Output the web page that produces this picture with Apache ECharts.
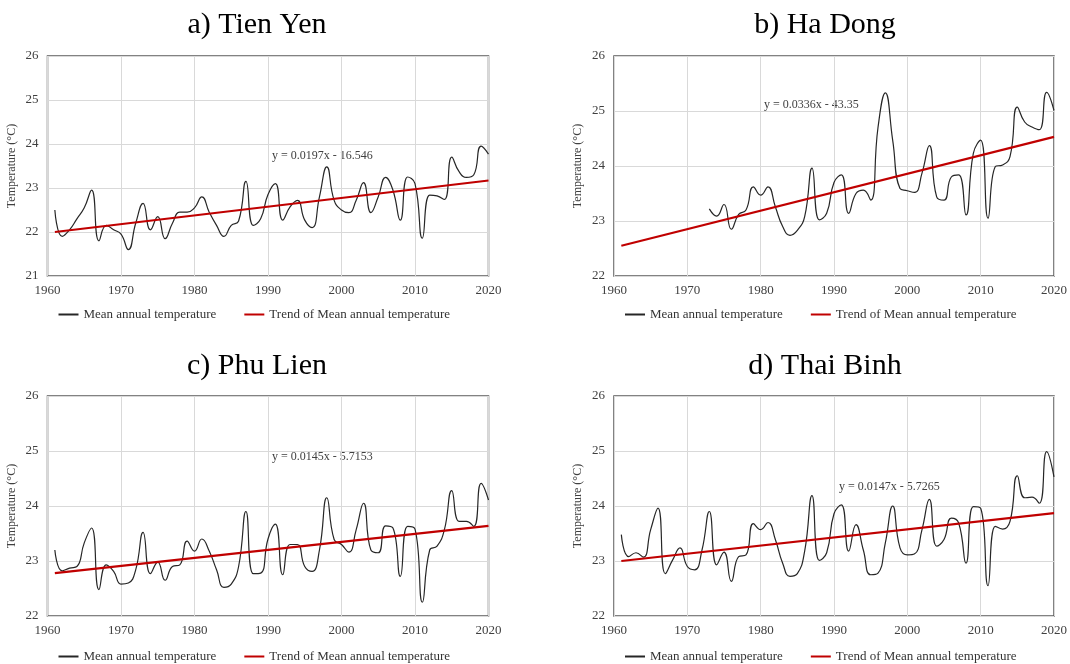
<!doctype html>
<html>
	<head>
		<meta charset="UTF-8">
		<title>Mean annual temperature</title>
		<style>
			html, body { margin: 0; padding: 0; background: #fff; }
			#main { width: 1070px; height: 664px; }
		</style>
	</head>
	<body>
		<div id="main"></div>
		<script src="https://cdn.jsdelivr.net/npm/echarts/dist/echarts.min.js"></script>
		<script>
			// years 1961-2020
			var years = [];
			for (var y = 1961; y <= 2020; y++) years.push(y);
			var haDongYears = [];
			for (var y = 1973; y <= 2020; y++) haDongYears.push(y);

			var tienYen = [22.5, 21.9, 22.05, 22.3, 22.55, 22.95, 21.8, 22.15, 22.05, 21.95,
				21.6, 22.2, 22.65, 22.05, 22.35, 21.85, 22.2, 22.45, 22.45, 22.55,
				22.8, 22.45, 22.15, 21.9, 22.15, 22.25, 23.15, 22.15, 22.3, 22.85,
				23.1, 22.27, 22.57, 22.72, 22.27, 22.1, 22.8, 23.48, 22.72, 22.5,
				22.44, 22.72, 23.12, 22.44, 22.8, 23.24, 22.95, 22.27, 23.25, 23.1,
				21.86, 22.84, 22.82, 22.74, 23.7, 23.37, 23.24, 23.3, 23.95, 23.77];
			var haDong = [23.22, 23.09, 23.3, 22.85, 23.12, 23.2, 23.62, 23.47, 23.62, 23.26,
				22.9, 22.74, 22.83, 23.08, 23.96, 23.02, 23.14, 23.7,
				23.84, 23.14, 23.5, 23.56, 23.38, 24.7, 25.33, 24.47, 23.59, 23.55,
				23.52, 23.87, 24.37, 23.44, 23.38, 23.8, 23.84, 23.11, 24.23, 24.47,
				23.05, 23.99, 24.02, 24.17, 25.07, 24.8, 24.71, 24.66, 25.34, 25.01];
			var phuLien = [23.2, 22.82, 22.87, 22.9, 23.33, 23.6, 22.48, 22.93, 22.81, 22.58,
				22.6, 22.84, 23.52, 22.77, 22.98, 22.65, 22.9, 22.93, 23.36, 23.18,
				23.4, 23.18, 22.84, 22.52, 22.58, 22.9, 23.9, 22.77, 22.78, 23.4,
				23.67, 22.75, 23.3, 23.3, 22.9, 22.81, 23.2, 24.15, 23.39, 23.3,
				23.16, 23.57, 24.05, 23.2, 23.15, 23.64, 23.6, 22.72, 23.63, 23.58,
				22.25, 23.2, 23.27, 23.57, 24.28, 23.72, 23.72, 23.63, 24.41, 24.11];
			var thaiBinh = [23.48, 23.08, 23.15, 23.07, 23.57, 23.96, 22.77, 23.02, 23.24, 22.9,
				22.84, 23.2, 23.9, 22.93, 23.16, 22.63, 23.08, 23.11, 23.68, 23.57,
				23.7, 23.39, 22.96, 22.72, 22.77, 23.18, 24.19, 23.01, 23.15, 23.86,
				24.02, 23.18, 23.66, 23.2, 22.75, 22.78, 23.33, 24.0, 23.24, 23.11,
				23.13, 23.57, 24.12, 23.27, 23.39, 23.78, 23.69, 22.96, 23.99, 23.96,
				22.55, 23.63, 23.58, 23.72, 24.55, 24.15, 24.16, 24.05, 24.99, 24.53];

			// trend line end points
			var trendYears = [1961, 2020];
			var trendTienYen = [22.0, 23.17];
			var trendHaDong = [22.55, 24.53];
			var trendPhuLien = [22.78, 23.64];
			var trendThaiBinh = [23.0, 23.87];

			var titles = ['a) Tien Yen', 'b) Ha Dong', 'c) Phu Lien', 'd) Thai Binh'];
			var equations = ['y = 0.0197x - 16.546', 'y = 0.0336x - 43.35', 'y = 0.0145x - 5.7153', 'y = 0.0147x - 5.7265'];
			var yMins = [21, 22, 22, 22];

			var SERIF = '"Liberation Serif", "Times New Roman", serif';
			var LEG1 = 'Mean annual temperature';
			var LEG2 = 'Trend of Mean annual temperature';

			function pairs(xs, vs) {
				return xs.map(function(x, i) { return [x, vs[i]]; });
			}

			var panels = [
				{ left: 47.5, top: 56, mean: pairs(years, tienYen), trend: pairs(trendYears, trendTienYen), legTop: 308 },
				{ left: 614, top: 56, mean: pairs(haDongYears, haDong), trend: pairs(trendYears, trendHaDong), legTop: 308 },
				{ left: 47.5, top: 396, mean: pairs(years, phuLien), trend: pairs(trendYears, trendPhuLien), legTop: 650 },
				{ left: 614, top: 396, mean: pairs(years, thaiBinh), trend: pairs(trendYears, trendThaiBinh), legTop: 650 }
			];
			var eqPos = [[272, 158], [764, 107], [272, 459], [839, 489]];

			var grid = [], xAxis = [], yAxis = [], series = [], title = [], legend = [], graphic = [];
			panels.forEach(function(p, i) {
				grid.push({
					left: p.left, top: p.top, width: 441, height: 220,
					show: true, borderColor: '#595959', borderWidth: 1.5, backgroundColor: 'transparent'
				});
				xAxis.push({
					type: 'value', gridIndex: i, min: 1960, max: 2020, interval: 10,
					axisLine: { show: false }, axisTick: { show: false },
					axisLabel: {
						fontFamily: SERIF, fontSize: 13, color: '#404040', margin: 8,
						formatter: function(v) { return String(v); }
					},
					splitLine: { show: true, lineStyle: { color: '#d9d9d9', width: 1 } }
				});
				yAxis.push({
					type: 'value', gridIndex: i, min: yMins[i], max: 26, interval: 1,
					name: 'Temperature (\u00B0C)', nameLocation: 'middle', nameGap: 30,
					nameTextStyle: { fontFamily: SERIF, fontSize: 12, color: '#404040' },
					axisLine: { show: false }, axisTick: { show: false },
					axisLabel: { fontFamily: SERIF, fontSize: 13, color: '#404040', margin: 9 },
					splitLine: { show: true, lineStyle: { color: '#d9d9d9', width: 1 } }
				});
				series.push({
					name: LEG1, type: 'line', xAxisIndex: i, yAxisIndex: i,
					data: p.mean, smooth: 0.5, symbol: 'none',
					lineStyle: { color: '#262626', width: 1.2 }, itemStyle: { color: '#262626' },
					z: 3
				});
				series.push({
					name: LEG2, type: 'line', xAxisIndex: i, yAxisIndex: i,
					data: p.trend, symbol: 'none',
					lineStyle: { color: '#c00000', width: 2.2 }, itemStyle: { color: '#c00000' },
					z: 4
				});
				title.push({
					text: titles[i],
					left: (i % 2 === 0 ? 252 : 820), top: (i < 2 ? 5 : 346),
					textAlign: 'center',
					textStyle: { fontFamily: SERIF, fontSize: 30, fontWeight: 'normal', color: '#000' }
				});
				legend.push({
					data: [LEG1, LEG2],
					left: p.left + 11, top: p.legTop, padding: 0,
					icon: 'rect', itemWidth: 20, itemHeight: 2, itemGap: 28,
					selectedMode: false,
					textStyle: { fontFamily: SERIF, fontSize: 13, color: '#333' }
				});
				graphic.push({
					type: 'text', left: eqPos[i][0], top: eqPos[i][1] - 8,
					style: { text: equations[i], font: '12px ' + SERIF, fill: '#404040' }
				});
			});

			var chart = echarts.init(document.getElementById('main'));
			chart.setOption({
				animation: false,
				backgroundColor: '#fff',
				title: title,
				legend: legend,
				grid: grid,
				xAxis: xAxis,
				yAxis: yAxis,
				series: series,
				graphic: graphic
			});
		</script>
	</body>
</html>
